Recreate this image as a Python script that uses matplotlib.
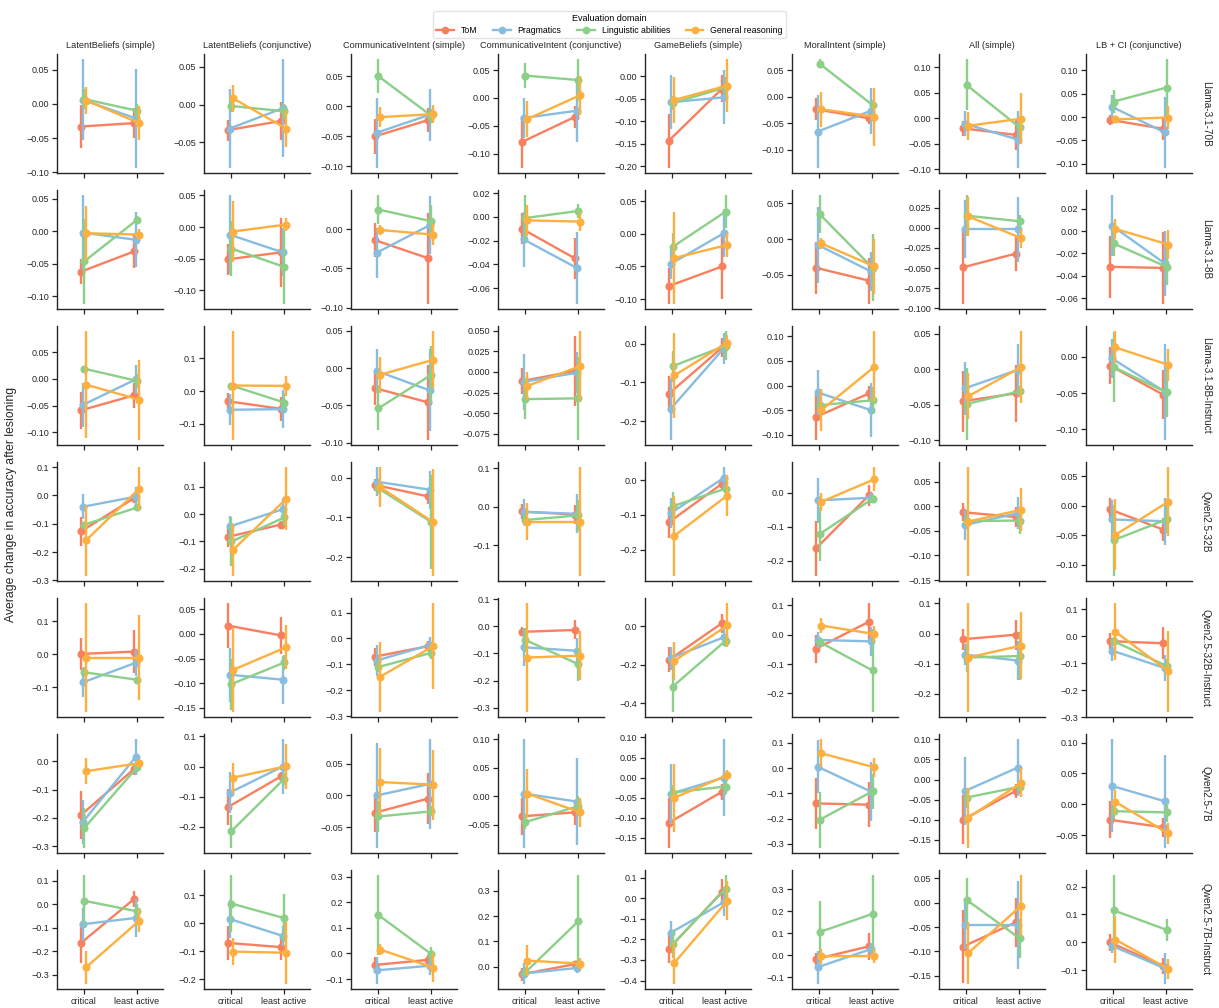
import numpy as np
import matplotlib.pyplot as plt
from matplotlib.lines import Line2D

plt.rcParams["font.family"] = ["Liberation Sans", "DejaVu Sans"]

tasks = [
    "LatentBeliefs (simple)",
    "LatentBeliefs (conjunctive)",
    "CommunicativeIntent (simple)",
    "CommunicativeIntent (conjunctive)",
    "GameBeliefs (simple)",
    "MoralIntent (simple)",
    "All (simple)",
    "LB + CI (conjunctive)",
]
models = [
    "Llama-3.1-70B",
    "Llama-3.1-8B",
    "Llama-3.1-8B-Instruct",
    "Qwen2.5-32B",
    "Qwen2.5-32B-Instruct",
    "Qwen2.5-7B",
    "Qwen2.5-7B-Instruct",
]
domains = ["ToM", "Pragmatics", "Linguistic abilities", "General reasoning"]
conditions = ["critical", "least active"]
colors = ["#f9805f", "#88bde0", "#8ccf88", "#fdb03f"]

# per panel: [ToM, Pragmatics, Linguistic, General] x [critical, least active]
mean_llama70 = [
    [[-0.033, -0.028], [0.006, -0.021], [0.007, -0.010], [0.005, -0.028]],
    [[-0.034, -0.022], [-0.032, -0.005], [-0.002, -0.009], [0.008, -0.032]],
    [[-0.050, -0.023], [-0.044, -0.014], [0.050, -0.016], [-0.018, -0.013]],
    [[-0.079, -0.034], [-0.036, -0.023], [0.040, 0.032], [-0.038, 0.005]],
    [[-0.143, -0.028], [-0.058, -0.047], [-0.060, -0.025], [-0.053, -0.021]],
    [[-0.024, -0.041], [-0.066, -0.027], [0.062, -0.016], [-0.024, -0.038]],
    [[-0.020, -0.033], [-0.011, -0.042], [0.065, -0.018], [-0.015, -0.001]],
    [[-0.006, -0.025], [0.022, -0.033], [0.033, 0.063], [-0.005, -0.001]],
]
err_llama70 = [
    [[0.032, 0.022], [0.059, 0.072], [0.015, 0.010], [0.020, 0.025]],
    [[0.014, 0.025], [0.052, 0.065], [0.008, 0.010], [0.018, 0.025]],
    [[0.029, 0.020], [0.058, 0.043], [0.028, 0.012], [0.017, 0.015]],
    [[0.046, 0.020], [0.036, 0.056], [0.022, 0.037], [0.033, 0.035]],
    [[0.060, 0.030], [0.060, 0.060], [0.015, 0.022], [0.050, 0.058]],
    [[0.021, 0.010], [0.068, 0.044], [0.008, 0.010], [0.033, 0.055]],
    [[0.015, 0.030], [0.025, 0.055], [0.050, 0.023], [0.027, 0.050]],
    [[0.010, 0.024], [0.025, 0.075], [0.025, 0.060], [0.008, 0.025]],
]

mean_llama8 = [
    [[-0.062, -0.031], [-0.002, -0.013], [-0.046, 0.018], [-0.003, -0.005]],
    [[-0.051, -0.040], [-0.012, -0.040], [-0.034, -0.063], [-0.007, 0.004]],
    [[-0.014, -0.037], [-0.030, 0.005], [0.025, 0.010], [-0.001, -0.007]],
    [[-0.010, -0.035], [-0.019, -0.043], [-0.001, 0.005], [-0.003, -0.004]],
    [[-0.080, -0.050], [-0.046, 0.001], [-0.020, 0.034], [-0.037, -0.017]],
    [[-0.040, -0.058], [-0.008, -0.045], [0.035, -0.040], [-0.006, -0.038]],
    [[-0.049, -0.032], [-0.002, -0.002], [0.015, 0.008], [0.014, -0.013]],
    [[-0.032, -0.033], [0.005, -0.029], [-0.011, -0.032], [0.002, -0.012]],
]
err_llama8 = [
    [[0.019, 0.026], [0.057, 0.042], [0.065, 0.005], [0.042, 0.008]],
    [[0.025, 0.055], [0.062, 0.038], [0.044, 0.058], [0.049, 0.010]],
    [[0.022, 0.058], [0.032, 0.037], [0.018, 0.021], [0.006, 0.013]],
    [[0.013, 0.017], [0.023, 0.030], [0.019, 0.006], [0.013, 0.008]],
    [[0.027, 0.050], [0.023, 0.037], [0.022, 0.025], [0.070, 0.018]],
    [[0.036, 0.032], [0.053, 0.027], [0.026, 0.047], [0.008, 0.038]],
    [[0.045, 0.021], [0.036, 0.040], [0.025, 0.008], [0.024, 0.012]],
    [[0.028, 0.032], [0.027, 0.029], [0.011, 0.016], [0.009, 0.013]],
]

mean_llama8_inst = [
    [[-0.059, -0.031], [-0.049, -0.001], [0.019, -0.004], [-0.011, -0.039]],
    [[-0.031, -0.054], [-0.057, -0.055], [0.017, -0.035], [0.017, 0.016]],
    [[-0.027, -0.046], [-0.004, -0.030], [-0.054, -0.009], [-0.009, 0.011]],
    [[-0.011, 0.001], [-0.012, -0.001], [-0.033, -0.032], [-0.017, 0.007]],
    [[-0.129, -0.010], [-0.168, -0.012], [-0.058, -0.005], [-0.082, 0.003]],
    [[-0.064, -0.016], [-0.014, -0.050], [-0.040, -0.030], [-0.050, 0.038]],
    [[-0.045, -0.034], [-0.027, -0.001], [-0.049, -0.031], [-0.038, 0.003]],
    [[-0.012, -0.052], [-0.002, -0.048], [-0.014, -0.049], [0.013, -0.011]],
]
err_llama8_inst = [
    [[0.035, 0.024], [0.042, 0.027], [0.004, 0.013], [0.100, 0.075]],
    [[0.025, 0.037], [0.047, 0.058], [0.005, 0.028], [0.165, 0.030]],
    [[0.022, 0.050], [0.030, 0.055], [0.029, 0.038], [0.024, 0.038]],
    [[0.016, 0.042], [0.034, 0.025], [0.024, 0.050], [0.017, 0.042]],
    [[0.045, 0.025], [0.080, 0.040], [0.040, 0.037], [0.110, 0.020]],
    [[0.046, 0.015], [0.045, 0.055], [0.020, 0.028], [0.042, 0.072]],
    [[0.043, 0.040], [0.037, 0.037], [0.050, 0.008], [0.032, 0.050]],
    [[0.025, 0.034], [0.027, 0.066], [0.048, 0.034], [0.022, 0.022]],
]

mean_qwen32 = [
    [[-0.127, -0.010], [-0.040, -0.004], [-0.103, -0.042], [-0.158, 0.024]],
    [[-0.083, -0.038], [-0.045, 0.018], [-0.100, -0.012], [-0.130, 0.056]],
    [[-0.018, -0.047], [-0.010, -0.030], [-0.027, -0.112], [-0.024, -0.112]],
    [[-0.012, -0.020], [-0.013, -0.018], [-0.034, -0.022], [-0.038, -0.038]],
    [[-0.121, -0.010], [-0.095, 0.007], [-0.075, -0.024], [-0.160, -0.044]],
    [[-0.163, -0.007], [-0.022, -0.014], [-0.121, -0.017], [-0.026, 0.040]],
    [[-0.012, -0.022], [-0.038, -0.014], [-0.030, -0.029], [-0.031, -0.007]],
    [[-0.006, -0.040], [-0.023, -0.026], [-0.058, -0.023], [-0.049, 0.007]],
]
err_qwen32 = [
    [[0.050, 0.015], [0.044, 0.035], [0.010, 0.006], [0.125, 0.075]],
    [[0.037, 0.013], [0.038, 0.040], [0.090, 0.030], [0.095, 0.115]],
    [[0.015, 0.018], [0.036, 0.048], [0.015, 0.118], [0.050, 0.135]],
    [[0.020, 0.025], [0.033, 0.050], [0.016, 0.040], [0.048, 0.140]],
    [[0.045, 0.018], [0.043, 0.030], [0.040, 0.010], [0.115, 0.060]],
    [[0.080, 0.030], [0.065, 0.015], [0.080, 0.010], [0.027, 0.035]],
    [[0.018, 0.020], [0.030, 0.033], [0.012, 0.027], [0.110, 0.044]],
    [[0.020, 0.020], [0.033, 0.040], [0.060, 0.023], [0.060, 0.058]],
]

mean_qwen32_inst = [
    [[0.001, 0.008], [-0.086, -0.026], [-0.055, -0.078], [-0.010, -0.010]],
    [[0.017, -0.003], [-0.083, -0.093], [-0.102, -0.058], [-0.073, -0.027]],
    [[-0.070, -0.030], [-0.085, -0.025], [-0.110, -0.055], [-0.147, -0.030]],
    [[-0.020, -0.013], [-0.077, -0.090], [-0.050, -0.140], [-0.115, -0.108]],
    [[-0.175, 0.017], [-0.165, -0.057], [-0.315, -0.075], [-0.180, 0.005]],
    [[-0.048, 0.044], [-0.018, -0.023], [-0.025, -0.122], [0.031, 0.002]],
    [[-0.019, -0.004], [-0.070, -0.090], [-0.080, -0.075], [-0.080, -0.040]],
    [[-0.018, -0.026], [-0.053, -0.118], [-0.018, -0.110], [0.017, -0.130]],
]
err_qwen32_inst = [
    [[0.050, 0.065], [0.045, 0.040], [0.015, 0.006], [0.165, 0.130]],
    [[0.045, 0.037], [0.055, 0.049], [0.052, 0.015], [0.085, 0.045]],
    [[0.035, 0.020], [0.060, 0.032], [0.018, 0.025], [0.135, 0.165]],
    [[0.017, 0.035], [0.070, 0.048], [0.045, 0.060], [0.200, 0.090]],
    [[0.065, 0.050], [0.060, 0.045], [0.130, 0.035], [0.100, 0.115]],
    [[0.048, 0.062], [0.027, 0.050], [0.015, 0.140], [0.027, 0.028]],
    [[0.035, 0.050], [0.035, 0.065], [0.048, 0.080], [0.180, 0.110]],
    [[0.030, 0.060], [0.037, 0.050], [0.017, 0.025], [0.105, 0.150]],
]

mean_qwen7 = [
    [[-0.190, -0.028], [-0.215, 0.015], [-0.235, -0.020], [-0.035, -0.007]],
    [[-0.135, -0.033], [-0.087, 0.000], [-0.215, -0.040], [-0.037, 0.001]],
    [[-0.027, -0.005], [0.000, 0.018], [-0.033, -0.025], [0.021, 0.017]],
    [[-0.035, -0.028], [0.005, -0.009], [-0.045, -0.017], [0.005, -0.028]],
    [[-0.112, -0.035], [-0.040, 0.000], [-0.037, -0.022], [-0.050, 0.006]],
    [[-0.140, -0.145], [0.005, -0.093], [-0.205, -0.092], [0.058, 0.003]],
    [[-0.100, -0.028], [-0.029, 0.030], [-0.045, -0.018], [-0.095, -0.008]],
    [[-0.025, -0.037], [0.030, 0.005], [-0.011, -0.013], [0.004, -0.047]],
]
err_qwen7 = [
    [[0.085, 0.020], [0.078, 0.062], [0.070, 0.012], [0.046, 0.008]],
    [[0.060, 0.015], [0.068, 0.090], [0.055, 0.020], [0.050, 0.075]],
    [[0.030, 0.040], [0.082, 0.070], [0.024, 0.008], [0.054, 0.055]],
    [[0.033, 0.022], [0.095, 0.077], [0.012, 0.017], [0.043, 0.025]],
    [[0.062, 0.020], [0.075, 0.095], [0.020, 0.018], [0.085, 0.012]],
    [[0.100, 0.088], [0.105, 0.115], [0.110, 0.070], [0.055, 0.038]],
    [[0.062, 0.018], [0.085, 0.070], [0.025, 0.008], [0.075, 0.036]],
    [[0.030, 0.015], [0.075, 0.075], [0.012, 0.015], [0.020, 0.017]],
]

mean_qwen7_inst = [
    [[-0.165, 0.022], [-0.085, -0.058], [0.015, -0.030], [-0.268, -0.070]],
    [[-0.070, -0.085], [0.015, -0.045], [0.070, 0.018], [-0.101, -0.105]],
    [[-0.045, -0.025], [-0.066, -0.048], [0.150, -0.003], [0.015, -0.055]],
    [[-0.030, 0.010], [-0.027, -0.005], [-0.022, 0.180], [0.024, 0.012]],
    [[-0.245, 0.030], [-0.168, -0.020], [-0.225, 0.045], [-0.315, -0.013]],
    [[-0.018, 0.040], [-0.055, 0.027], [0.105, 0.188], [-0.005, -0.004]],
    [[-0.090, -0.040], [-0.045, -0.045], [0.006, -0.073], [-0.103, -0.006]],
    [[0.000, -0.085], [-0.012, -0.093], [0.115, 0.045], [0.010, -0.095]],
]
err_qwen7_inst = [
    [[0.085, 0.033], [0.070, 0.080], [0.108, 0.030], [0.070, 0.050]],
    [[0.060, 0.047], [0.067, 0.035], [0.100, 0.085], [0.047, 0.110]],
    [[0.033, 0.018], [0.052, 0.035], [0.155, 0.030], [0.022, 0.055]],
    [[0.025, 0.012], [0.040, 0.020], [0.020, 0.180], [0.060, 0.024]],
    [[0.070, 0.062], [0.057, 0.065], [0.065, 0.065], [0.100, 0.095]],
    [[0.026, 0.062], [0.075, 0.030], [0.140, 0.175], [0.035, 0.030]],
    [[0.075, 0.050], [0.050, 0.090], [0.045, 0.040], [0.063, 0.062]],
    [[0.030, 0.030], [0.025, 0.055], [0.125, 0.040], [0.085, 0.035]],
]

all_means = [mean_llama70, mean_llama8, mean_llama8_inst, mean_qwen32,
             mean_qwen32_inst, mean_qwen7, mean_qwen7_inst]
all_errs = [err_llama70, err_llama8, err_llama8_inst, err_qwen32,
            err_qwen32_inst, err_qwen7, err_qwen7_inst]

fig, axes = plt.subplots(7, 8, figsize=(12.19, 10.08), dpi=100, sharex=True)
fig.subplots_adjust(left=0.0468, right=0.978, top=0.9464, bottom=0.0188,
                    wspace=0.387, hspace=0.143)

# small dodge between the four domains, like seaborn pointplot
offsets = np.linspace(-0.05, 0.05, len(domains))
xpos = np.arange(len(conditions))
axis_col = "#262626"

for r, model in enumerate(models):
    means = np.array(all_means[r])
    errs = np.array(all_errs[r])
    for c, task in enumerate(tasks):
        ax = axes[r, c]
        for k, dom in enumerate(domains):
            xs = xpos + offsets[k]
            m = means[c, k]
            e = errs[c, k]
            ax.vlines(xs, m - e, m + e, color=colors[k], lw=1.7)
            ax.plot(xs, m, marker="o", ms=4.8, lw=1.7, color=colors[k])

        ax.set_xlim(-0.5, 1.5)
        ax.set_xticks(xpos)
        ax.set_xticklabels(conditions)
        ax.spines["top"].set_visible(False)
        ax.spines["right"].set_visible(False)
        for s in ["left", "bottom"]:
            ax.spines[s].set_color(axis_col)
            ax.spines[s].set_linewidth(1.0)
        ax.tick_params(labelsize=6.5, colors=axis_col, length=3.5, width=0.9, pad=2)
        ax.yaxis.set_major_locator(plt.MaxNLocator(nbins=6, steps=[1, 2, 2.5, 5, 10]))

        if r == 0:
            ax.set_title(task, fontsize=6.6, color=axis_col, pad=4)
        if c == len(tasks) - 1:
            ax.text(1.08, 0.5, model, transform=ax.transAxes, rotation=270,
                    va="center", ha="left", fontsize=7.2, color=axis_col)

fig.text(0.009, 0.5, "Average change in accuracy after lesioning", rotation=90,
         va="center", ha="center", fontsize=8.8, color=axis_col)

handles = [Line2D([0], [0], color=colors[k], marker="o", ms=4.5, lw=1.7)
           for k in range(len(domains))]
leg = fig.legend(handles, domains, loc="upper center", bbox_to_anchor=(0.5, 0.993),
                 ncol=4, title="Evaluation domain", fontsize=6.3, title_fontsize=6.5,
                 frameon=True, columnspacing=1.8, handlelength=2.0, borderpad=0.35,
                 handletextpad=0.8, labelspacing=0.3)
leg.get_frame().set_edgecolor("#dddddd")

fig.savefig("out.png", dpi=100)
